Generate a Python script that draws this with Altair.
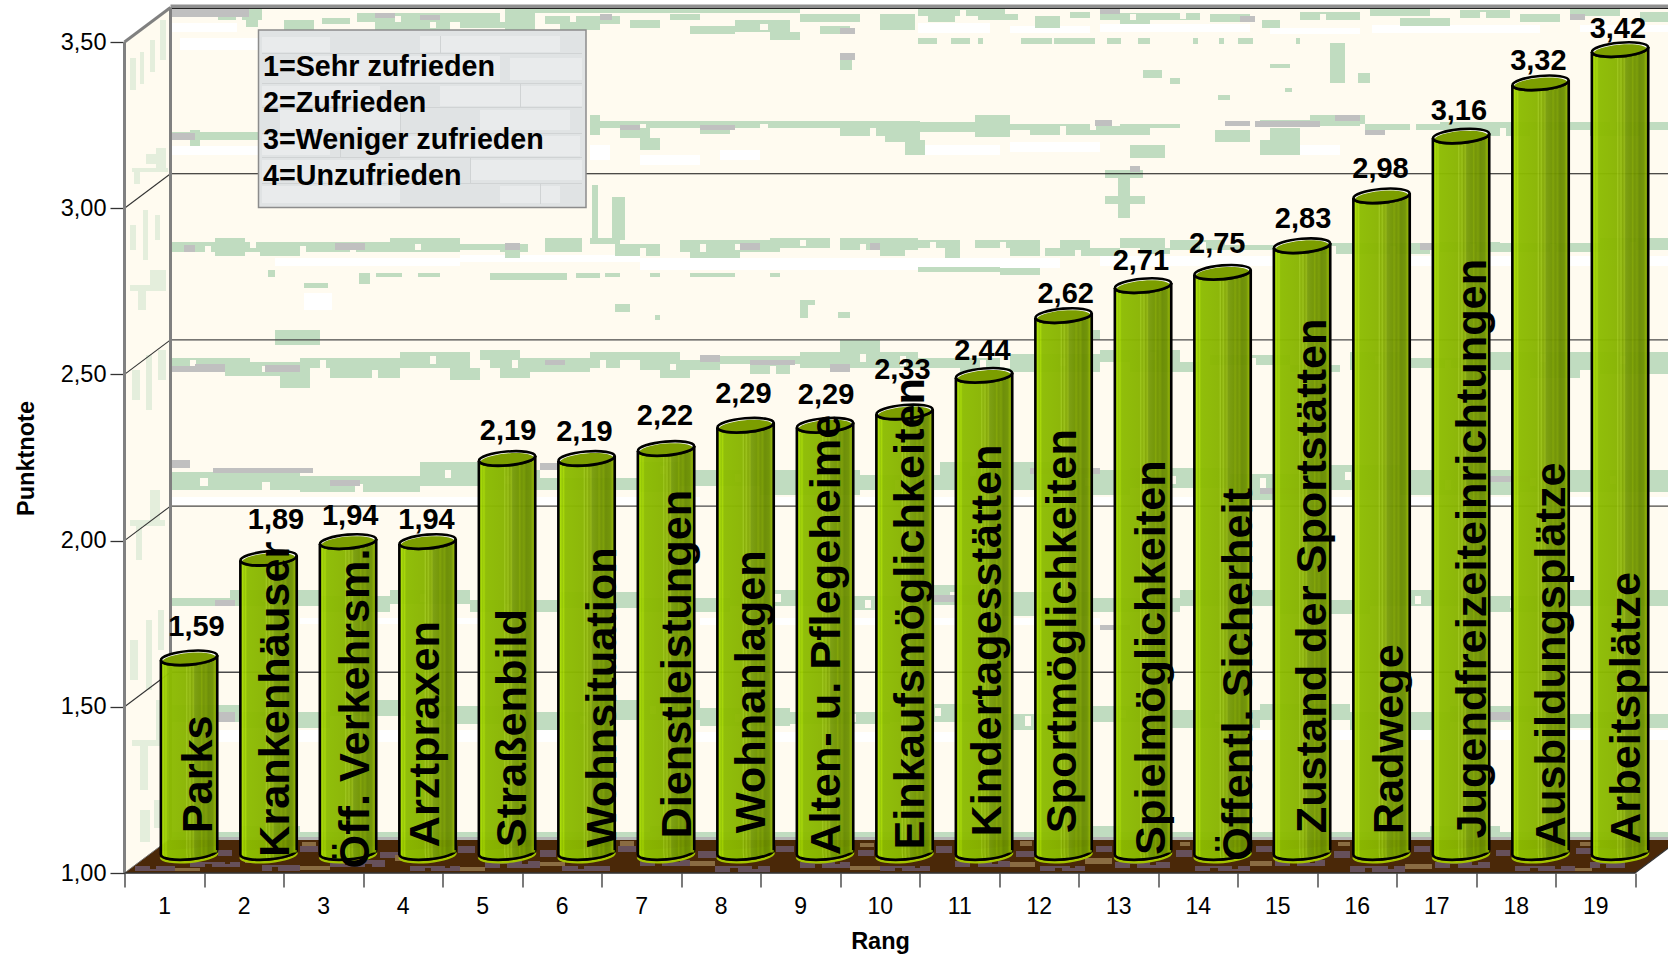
import altair as alt
import pandas as pd

# Survey results: satisfaction grades per topic, ranked from best to worst
ranks = list(range(1, 20))
topics = ["Parks", "Krankenhäuser", "Öff. Verkehrsm.", "Arztpraxen", "Straßenbild", "Wohnsituation",
          "Dienstleistungen", "Wohnanlagen", "Alten- u. Pflegeheime", "Einkaufsmöglichkeiten",
          "Kindertagesstätten", "Sportmöglichkeiten", "Spielmöglichkeiten", "Öffentl. Sicherheit",
          "Zustand der Sportstätten", "Radwege", "Jugendfreizeiteinrichtungen", "Ausbildungsplätze",
          "Arbeitsplätze"]
grades = [1.59, 1.89, 1.94, 1.94, 2.19, 2.19, 2.22, 2.29, 2.29, 2.33, 2.44, 2.62, 2.71, 2.75, 2.83,
          2.98, 3.16, 3.32, 3.42]
legend_lines = ["1=Sehr zufrieden", "2=Zufrieden", "3=Weniger zufrieden", "4=Unzufrieden"]

# Hand placement of the text on and above each cylinder, in axis units
name_shift = [.335, .31, .315, .19, .28, .415, .36, .295, .23, .295, .26, .20, .32, .415, .35, .32, .36, .36, .295]
name_start = [1.124, 1.053, 1.018, 1.082, 1.082, 1.082, 1.108, 1.124, 1.059, 1.075, 1.114, 1.124, 1.059, 1.041,
              1.124, 1.121, 1.108, 1.082, 1.092]
label_shift = [.094, .094, .027, -.013, .013, -.027, -.013, -.027, .013, -.027, -.02, .027, -.027, -.067, .013,
               -.013, -.027, -.027, -.027]
label_lift = [.093, .115, .077, .064, .083, .08, .099, .093, .09, .125, .074, .064, .074, .086, .08, .08, .074,
              .067, .061]

# Plot geometry
PLOT_W, PLOT_H = 1510.5, 831.0
PAD_L, PAD_T = 124.5, 42.0
PX_PER_RANK = PLOT_W / 19
PX_PER_GRADE = PLOT_H / 2.5
DEPTH_R = 46 / PX_PER_RANK      # wall depth in rank units
DEPTH_G = 34.5 / PX_PER_GRADE   # wall depth in grade units
BAR_R = 24.8 / PX_PER_RANK      # cylinders stand half way into the floor
BAR_G = 19 / PX_PER_GRADE
HALF_W = 28.2 / PX_PER_RANK
TILT = 2.5 / PX_PER_GRADE


def rank_at(px):
    return 0.5 + (px - PAD_L) / PX_PER_RANK


def grade_at(py):
    return 1 + (PAD_T + PLOT_H - py) / PX_PER_GRADE


x_scale = alt.Scale(domain=[0.5, 19.5], nice=False, zero=False)
y_scale = alt.Scale(domain=[1, 3.5], nice=False, zero=False)


def X(f):
    return alt.X(f, type="quantitative", scale=x_scale, axis=None, title=None)


def Y(f):
    return alt.Y(f, type="quantitative", scale=y_scale, axis=None, title=None, stack=None)


def X2(f):
    return alt.X2(f)


def Y2(f):
    return alt.Y2(f)


def patches(rows, color):
    return pd.DataFrame([{"r0": rank_at(a), "r1": rank_at(b), "g0": grade_at(c), "g1": grade_at(d), "c": color}
                         for a, b, c, d in rows])


def rects(df, **kw):
    return alt.Chart(df).mark_rect(**kw).encode(
        x=X("r0"), x2=X2("r1"), y=Y("g0"), y2=Y2("g1"), color=alt.Color("c:N", scale=None, legend=None))


def rule(r0, r1, g0, g1, color, width):
    df = pd.DataFrame([{"r0": r0, "r1": r1, "g0": g0, "g1": g1}])
    return alt.Chart(df).mark_rule(color=color, strokeWidth=width).encode(
        x=X("r0"), x2=X2("r1"), y=Y("g0"), y2=Y2("g1"))


# Wallpaper pattern of the back wall
wall_white = [
    (172, 237, 23, 32), (180, 260, 38, 50), (918, 990, 23, 33), (1010, 1090, 26, 33), (1100, 1250, 24, 32),
    (1270, 1360, 28, 34), (1372, 1540, 25, 33), (1580, 1668, 25, 32), (275, 460, 258, 266), (460, 640, 255, 262),
    (640, 1000, 258, 270), (1000, 1060, 258, 268), (1100, 1300, 256, 266), (1400, 1668, 256, 266),
    (172, 260, 146, 155), (590, 610, 145, 160), (640, 700, 155, 165), (720, 760, 150, 160), (918, 1000, 145, 155),
    (1010, 1100, 142, 152), (1300, 1340, 145, 155), (304, 332, 293, 310), (172, 700, 497, 505), (760, 1200, 497, 505),
    (1300, 1668, 497, 505), (300, 520, 618, 624), (700, 1100, 618, 625), (172, 600, 730, 742), (640, 1000, 732, 742),
    (1200, 1668, 730, 740),
]
wall_green = [
    (218, 262, 9, 20), (246, 258, 20, 27), (284, 314, 20, 32), (322, 350, 18, 24), (357, 500, 13, 22),
    (375, 450, 22, 30), (460, 505, 22, 28), (505, 800, 9, 13), (505, 535, 13, 30), (545, 620, 16, 24),
    (560, 600, 24, 30), (630, 660, 20, 28), (670, 700, 14, 20), (690, 735, 26, 34), (735, 790, 20, 32),
    (770, 800, 32, 40), (800, 860, 14, 22), (820, 850, 26, 34), (880, 915, 14, 30), (918, 1005, 9, 16),
    (928, 955, 16, 22), (978, 1018, 14, 20), (1035, 1060, 16, 28), (1070, 1090, 12, 18), (1100, 1200, 13, 20),
    (1120, 1150, 20, 24), (1210, 1250, 14, 22), (1262, 1280, 20, 28), (1300, 1360, 12, 20), (1370, 1430, 9, 16),
    (1400, 1450, 18, 26), (1460, 1510, 10, 18), (1520, 1560, 14, 22), (1570, 1620, 9, 16), (1640, 1668, 12, 22),
    (918, 937, 38, 44), (951, 970, 38, 44), (978, 983, 38, 44), (1021, 1052, 38, 44), (1054, 1095, 38, 44),
    (1107, 1121, 38, 44), (1138, 1150, 38, 44), (1193, 1198, 38, 44), (1219, 1224, 38, 44), (1238, 1253, 38, 44),
    (1296, 1300, 38, 44), (840, 852, 54, 70), (1330, 1345, 43, 83), (1358, 1370, 73, 83), (1143, 1162, 70, 78),
    (1170, 1180, 78, 84), (1218, 1230, 95, 100), (1270, 1290, 64, 68), (1285, 1292, 88, 92),
    (172, 258, 132, 140), (190, 200, 130, 146), (590, 920, 121, 128), (590, 600, 115, 135), (620, 650, 128, 138),
    (640, 660, 138, 150), (700, 730, 128, 134), (840, 900, 128, 136), (885, 920, 128, 142), (905, 925, 140, 155),
    (918, 1000, 122, 132), (975, 1010, 115, 137), (1000, 1110, 124, 130), (1030, 1150, 126, 135), (1120, 1180, 124, 128),
    (1215, 1250, 130, 142), (1260, 1360, 120, 126), (1310, 1365, 115, 124), (1270, 1300, 128, 140), (1365, 1440, 124, 130),
    (1440, 1668, 122, 130), (1480, 1530, 128, 136), (1590, 1640, 130, 136), (1130, 1165, 145, 158), (1260, 1300, 140, 155),
    (592, 598, 185, 240), (612, 625, 197, 240), (1105, 1143, 170, 178), (1118, 1130, 178, 218), (1105, 1145, 196, 204),
    (172, 460, 242, 252), (215, 245, 238, 256), (260, 300, 246, 256), (390, 460, 238, 250), (460, 505, 244, 250),
    (500, 528, 244, 252), (505, 520, 252, 258), (545, 582, 238, 252), (590, 620, 238, 244), (615, 660, 244, 256),
    (680, 780, 240, 252), (690, 740, 252, 258), (770, 830, 238, 248), (840, 918, 238, 250), (880, 905, 250, 256),
    (918, 960, 240, 248), (945, 960, 248, 258), (975, 1040, 240, 248), (1010, 1040, 248, 256), (1045, 1120, 248, 256),
    (1060, 1090, 240, 248), (1120, 1165, 238, 248), (1140, 1170, 248, 254), (1170, 1225, 240, 250), (1225, 1300, 245, 250),
    (1300, 1430, 243, 254), (1440, 1500, 242, 252), (1500, 1600, 243, 252), (1600, 1668, 238, 250),
    (268, 275, 270, 277), (359, 370, 273, 284), (376, 402, 273, 277), (418, 440, 273, 277), (490, 567, 273, 280),
    (576, 600, 273, 278), (605, 620, 273, 277), (650, 660, 273, 277), (690, 735, 273, 277), (770, 780, 273, 277),
    (918, 1000, 267, 272), (1000, 1040, 268, 275), (304, 328, 283, 288), (615, 630, 304, 312), (655, 660, 315, 320),
    (800, 815, 300, 305), (800, 808, 305, 318), (838, 850, 312, 318), (275, 320, 330, 345), (1080, 1100, 330, 340),
    (172, 250, 358, 368), (225, 300, 362, 376), (280, 310, 368, 388), (300, 400, 358, 368), (330, 400, 368, 378),
    (400, 470, 352, 368), (450, 480, 368, 380), (480, 520, 350, 360), (490, 620, 358, 368), (500, 530, 368, 378),
    (530, 590, 364, 372), (590, 680, 352, 360), (640, 720, 360, 370), (660, 690, 370, 378), (720, 800, 356, 364),
    (750, 790, 364, 374), (800, 918, 352, 368), (840, 880, 340, 352), (918, 1000, 358, 368), (960, 1010, 368, 376),
    (1010, 1100, 354, 372), (1100, 1180, 350, 362), (1130, 1200, 362, 372), (1210, 1290, 355, 365), (1290, 1340, 365, 372),
    (1350, 1400, 352, 370), (1410, 1480, 358, 368), (1490, 1668, 352, 370), (1530, 1580, 370, 378), (1600, 1668, 370, 374),
    (172, 300, 472, 490), (300, 420, 476, 492), (420, 480, 462, 486), (480, 540, 470, 490), (540, 640, 478, 490),
    (640, 680, 462, 492), (680, 760, 470, 486), (760, 860, 470, 495), (860, 940, 475, 490), (940, 1050, 462, 490),
    (1050, 1130, 470, 495), (1130, 1230, 468, 488), (1230, 1300, 474, 500), (1300, 1400, 465, 490), (1400, 1520, 470, 495),
    (1520, 1668, 470, 492),
    (172, 230, 598, 606), (230, 320, 590, 606), (320, 390, 596, 612), (390, 470, 590, 604), (470, 560, 600, 612),
    (560, 640, 592, 608), (640, 730, 598, 612), (730, 820, 590, 606), (820, 900, 596, 610), (900, 1000, 585, 605),
    (1000, 1090, 592, 616), (1090, 1180, 598, 612), (1180, 1280, 590, 606), (1280, 1370, 600, 614), (1370, 1460, 590, 606),
    (1460, 1560, 596, 612), (1560, 1668, 590, 606),
    (172, 240, 705, 722), (240, 330, 712, 728), (330, 420, 700, 716), (420, 520, 706, 724), (520, 600, 712, 730),
    (600, 700, 700, 720), (700, 790, 708, 726), (790, 890, 712, 724), (890, 980, 704, 722), (980, 1070, 714, 730),
    (1070, 1170, 706, 722), (1170, 1260, 710, 728), (1260, 1350, 704, 720), (1350, 1450, 712, 730), (1450, 1560, 706, 722),
    (1560, 1668, 714, 728),
    (172, 1668, 832, 838), (240, 300, 826, 832), (650, 690, 826, 832), (1060, 1120, 826, 832), (1430, 1500, 826, 832),
]
# Small openings that break the long green runs into a blotchy weave
wall_gaps = [
    (236, 242, 14, 20), (395, 401, 16, 22), (430, 436, 22, 28), (570, 576, 16, 22), (760, 768, 24, 30), (960, 966, 10, 16),
    (1130, 1136, 14, 20), (1180, 1186, 13, 19), (1320, 1326, 14, 20), (1480, 1486, 12, 18), (640, 646, 124, 128),
    (760, 768, 124, 128), (870, 876, 128, 136), (1060, 1066, 126, 135), (1090, 1096, 124, 130), (1410, 1416, 124, 130),
    (1500, 1506, 128, 136), (1610, 1616, 122, 130), (205, 211, 246, 252), (250, 256, 242, 248), (300, 306, 246, 252),
    (350, 356, 246, 252), (415, 421, 244, 250), (640, 646, 248, 256), (700, 706, 244, 252), (735, 741, 244, 250),
    (800, 806, 240, 246), (860, 866, 244, 250), (930, 936, 242, 248), (1000, 1006, 242, 248), (1075, 1081, 250, 256),
    (1200, 1206, 242, 250), (1330, 1336, 246, 254), (1390, 1396, 246, 254), (1470, 1476, 244, 252), (1550, 1556, 244, 252),
    (1630, 1636, 242, 250), (190, 196, 360, 368), (262, 268, 366, 372), (320, 326, 360, 368), (372, 378, 370, 378),
    (430, 436, 356, 364), (512, 518, 360, 368), (600, 606, 360, 368), (670, 676, 364, 370), (770, 776, 366, 374),
    (860, 866, 354, 362), (900, 906, 356, 366), (980, 986, 360, 368), (1060, 1066, 358, 366), (1150, 1156, 352, 360),
    (1250, 1256, 358, 365), (1375, 1381, 356, 364), (1445, 1451, 360, 368), (1540, 1546, 354, 362), (1620, 1626, 356, 364),
    (200, 208, 478, 486), (262, 270, 482, 490), (355, 363, 484, 492), (445, 451, 470, 478), (505, 511, 476, 484),
    (660, 666, 466, 474), (735, 741, 474, 482), (815, 821, 480, 490), (895, 901, 480, 490), (970, 976, 468, 476),
    (1085, 1091, 478, 486), (1170, 1176, 476, 484), (1260, 1266, 478, 488), (1345, 1351, 472, 480), (1445, 1451, 480, 490),
    (1530, 1536, 478, 486), (1610, 1616, 476, 484), (262, 268, 594, 602), (345, 351, 600, 608), (420, 426, 594, 602),
    (505, 511, 604, 610), (590, 596, 598, 604), (680, 686, 602, 610), (775, 781, 594, 602), (865, 871, 600, 608),
    (950, 956, 592, 600), (1035, 1041, 598, 608), (1135, 1141, 602, 610), (1230, 1236, 594, 602), (1325, 1331, 604, 612),
    (1415, 1421, 596, 604), (1510, 1516, 600, 608), (1615, 1621, 596, 604), (260, 266, 716, 724), (350, 356, 704, 712),
    (440, 446, 712, 720), (580, 586, 716, 724), (650, 656, 706, 714), (735, 741, 714, 722), (850, 856, 714, 722),
    (935, 941, 708, 716), (1025, 1031, 716, 726), (1120, 1126, 710, 718), (1215, 1221, 714, 722), (1305, 1311, 708, 716),
    (1395, 1401, 716, 724), (1500, 1506, 712, 718), (1615, 1621, 716, 724),
]
wall_grey = [
    (172, 249, 9, 17), (375, 395, 13, 18), (420, 440, 15, 20), (600, 612, 14, 20), (840, 855, 28, 34), (1100, 1120, 9, 14),
    (1240, 1255, 16, 22), (1570, 1585, 14, 20), (172, 195, 133, 140), (620, 640, 125, 130), (700, 735, 125, 130),
    (840, 855, 53, 60), (1095, 1112, 120, 126), (1225, 1250, 121, 126), (1255, 1320, 121, 127), (1335, 1360, 115, 121),
    (1365, 1385, 130, 135), (1130, 1140, 166, 172), (184, 195, 245, 252), (335, 365, 243, 250), (505, 520, 243, 250),
    (740, 760, 243, 250), (870, 880, 243, 250), (1420, 1440, 243, 250), (172, 195, 366, 372), (195, 225, 364, 372),
    (265, 300, 365, 372), (545, 565, 360, 365), (700, 720, 355, 362), (750, 795, 360, 365), (830, 850, 364, 372),
    (213, 313, 468, 473), (172, 190, 460, 468), (330, 360, 480, 486), (540, 600, 463, 470), (1030, 1100, 468, 474),
    (1480, 1530, 476, 482), (1260, 1320, 488, 494), (215, 235, 600, 606), (930, 980, 595, 602), (1100, 1130, 625, 630),
    (210, 235, 712, 722), (405, 440, 712, 720), (1450, 1510, 712, 720), (1590, 1640, 712, 720),
]
side_streaks = [
    (130, 136, 58, 90), (140, 144, 52, 84), (150, 155, 40, 72), (160, 166, 20, 60), (132, 168, 168, 172),
    (134, 140, 172, 184), (146, 160, 154, 164), (156, 166, 148, 170), (130, 136, 225, 250), (143, 148, 210, 260),
    (155, 160, 215, 240), (130, 166, 285, 291), (138, 146, 291, 310), (150, 166, 270, 285), (132, 140, 370, 400),
    (146, 152, 355, 410), (158, 166, 350, 380), (130, 165, 520, 526), (136, 142, 526, 560), (150, 160, 490, 520),
    (130, 138, 640, 680), (146, 152, 620, 690), (158, 164, 610, 650), (132, 162, 740, 746), (140, 148, 746, 790),
    (156, 166, 700, 740), (140, 150, 810, 842), (154, 162, 800, 828),
]

# Floor pattern: (left, right, top, bottom)
floor_mauve = [
    (135, 175, 866, 871), (190, 240, 862, 867), (262, 300, 865, 871), (330, 385, 860, 867), (410, 460, 866, 871),
    (485, 540, 861, 868), (562, 610, 866, 871), (640, 690, 860, 866), (715, 770, 866, 872), (800, 850, 862, 868),
    (880, 930, 866, 871), (955, 1010, 861, 867), (1040, 1085, 866, 871), (1115, 1170, 862, 868), (1195, 1250, 866, 871),
    (1275, 1325, 860, 866), (1350, 1405, 866, 872), (1435, 1490, 862, 868), (1515, 1575, 866, 871), (1590, 1625, 862, 868),
    (218, 232, 850, 856), (300, 318, 846, 852), (380, 398, 852, 858), (458, 475, 846, 853), (540, 556, 850, 857),
    (618, 636, 846, 852), (698, 716, 851, 858), (776, 794, 846, 852), (858, 874, 850, 856), (936, 952, 846, 853),
    (1016, 1034, 851, 857), (1096, 1112, 846, 852), (1176, 1192, 850, 857), (1256, 1272, 846, 852), (1334, 1350, 851, 858),
    (1414, 1430, 846, 852), (1496, 1510, 850, 856), (1576, 1610, 848, 854),
]
floor_tan = [
    (175, 200, 868, 871), (300, 330, 866, 870), (245, 262, 858, 863), (460, 485, 867, 871), (540, 565, 862, 866),
    (395, 415, 855, 861), (690, 715, 861, 866), (850, 880, 866, 870), (1010, 1035, 862, 867), (1085, 1112, 858, 864),
    (1250, 1272, 861, 866), (1405, 1432, 864, 869), (1575, 1592, 868, 871), (302, 316, 842, 846), (620, 634, 841, 846),
    (860, 874, 843, 847), (1020, 1032, 841, 846), (1180, 1190, 842, 846), (1338, 1350, 842, 846), (1580, 1600, 842, 846),
]
# Dark flecks that break the floor's lighter blotches into speckle
floor_flecks = [
    (150, 156, 866, 869), (205, 212, 864, 867), (225, 230, 862, 864), (272, 278, 867, 871), (345, 352, 862, 865),
    (365, 372, 864, 867), (425, 431, 868, 871), (445, 450, 866, 868), (500, 507, 864, 868), (522, 528, 861, 864),
    (578, 584, 866, 869), (655, 662, 862, 866), (675, 680, 860, 862), (730, 738, 868, 872), (752, 758, 866, 869),
    (815, 822, 864, 868), (835, 840, 862, 864), (895, 902, 868, 871), (915, 920, 866, 868), (970, 978, 863, 867),
    (992, 998, 861, 864), (1055, 1062, 868, 871), (1070, 1075, 866, 868), (1130, 1137, 864, 868), (1150, 1156, 862, 865),
    (1210, 1218, 868, 871), (1232, 1238, 866, 869), (1290, 1297, 862, 866), (1310, 1315, 860, 863), (1365, 1372, 868, 872),
    (1388, 1394, 866, 869), (1450, 1458, 864, 868), (1472, 1478, 862, 865), (1530, 1538, 868, 871), (1555, 1561, 866, 869),
    (1600, 1606, 864, 868),
]

# Cylinder shading, left to right, with fine vertical stripes
shade_stops = [
    (0, "#98CC00"), (.04, "#A8DC00"), (.07, "#92C400"), (.09, "#A4D600"), (.12, "#8CBC00"), (.44, "#88B400"),
    (.46, "#9EC81A"), (.48, "#84AC00"), (.52, "#98C014"), (.54, "#80A600"), (.58, "#90B410"), (.60, "#789C0A"),
    (.70, "#709400"), (.72, "#7EA200"), (.76, "#6E9000"), (.80, "#789C00"), (.84, "#688A00"), (.92, "#6E9200"),
    (.96, "#8AAC00"), (1, "#6C8E00"),
]
shade = alt.LinearGradient(gradient="linear", x1=0, x2=1, y1=0, y2=0,
                           stops=[alt.GradientStop(offset=o, color=c) for o, c in shade_stops])

rows = pd.DataFrame({"Rang": ranks, "topic": topics, "grade": grades, "name_shift": name_shift,
                     "name_start": name_start, "label_shift": label_shift, "label_lift": label_lift})
rows["cx"] = rows["Rang"] + BAR_R
rows["left"] = rows["cx"] - HALF_W
rows["right"] = rows["cx"] + HALF_W
rows["top"] = rows["grade"] + BAR_G
rows["bottom"] = 1 + BAR_G + 1.5 / PX_PER_GRADE
rows["top_l"] = rows["top"] - TILT
rows["top_r"] = rows["top"] + TILT
rows["bot_l"] = rows["bottom"] - TILT
rows["bot_r"] = rows["bottom"] + TILT
rows["inner"] = rows["top"] - 1.6 / PX_PER_GRADE
rows["rim"] = rows["bottom"] - 2.5 / PX_PER_GRADE
rows["label_x"] = rows["cx"] + rows["label_shift"]
rows["label_y"] = rows["top"] + rows["label_lift"]
rows["name_x"] = rows["cx"] + rows["name_shift"] - 3.8 / PX_PER_RANK
rows["name_y"] = rows["name_start"] - 1.5 / PX_PER_GRADE
rows["grade_text"] = rows["grade"].map(lambda v: f"{v:.2f}".replace(".", ","))

ELLIPSE = ("M -1 0 C -1 -0.135 -0.552 -0.245 0 -0.245 C 0.552 -0.245 1 -0.135 1 0 "
           "C 1 0.135 0.552 0.245 0 0.245 C -0.552 0.245 -1 0.135 -1 0 Z")
# The filled lower end reaches a little above its chord so the tilted cap leaves no wedge under the body
LOWER_FILL = "M -1 -0.14 L -1 0 C -1 0.135 -0.552 0.245 0 0.245 C 0.552 0.245 1 0.135 1 0 L 1 -0.14 Z"
LOWER_ARC = "M -1 0 C -1 0.135 -0.552 0.245 0 0.245 C 0.552 0.245 1 0.135 1 0"
CAP_SIZE = 56.4 ** 2
CAP_ANGLE = 355

base = alt.Chart(rows)


def cap(y_field, shape, size=CAP_SIZE, **kw):
    return base.mark_point(shape=shape, size=size, angle=CAP_ANGLE, opacity=1, **kw).encode(x=X("cx"), y=Y(y_field))


# Room: back wall, side wall, floor
back_wall = rects(pd.DataFrame([{"r0": rank_at(170), "r1": rank_at(1690), "g0": 1 + DEPTH_G, "g1": 3.5 + DEPTH_G,
                                 "c": "#FFFBF0"}]))
side_wall = alt.Chart(pd.DataFrame({"r": [0.5, 0.5 + DEPTH_R], "g0": [1, 1 + DEPTH_G],
                                    "g1": [3.5, 3.5 + DEPTH_G]})).mark_area(
    orient="vertical", color="#FFFBF0").encode(x=X("r"), y=Y("g0"), y2=Y2("g1"))
floor = alt.Chart(pd.DataFrame({"g": [1, 1 + DEPTH_G], "r0": [0.5, 0.5 + DEPTH_R],
                                "r1": [19.5, 19.5 + DEPTH_R]})).mark_area(
    orient="horizontal", color="#4A2808").encode(y=Y("g"), x=X("r0"), x2=X2("r1"))

grid_back = []
for g, col, w in [(1.5, "#4A4A4A", 1.4), (2.0, "#4A4A4A", 1.4), (2.5, "#4A4A4A", 1.4), (3.0, "#111111", 1.1)]:
    grid_back.append(rule(0.5 + DEPTH_R, rank_at(1690), g + DEPTH_G, g + DEPTH_G, col, w))
    grid_back.append(rule(0.5, 0.5 + DEPTH_R, g, g + DEPTH_G, "#333333", 1.1))

frame = [
    rule(0.5 + DEPTH_R, rank_at(1690), 1 + DEPTH_G, 1 + DEPTH_G, "#B4B4B4", 3),
    rule(0.5 + DEPTH_R, rank_at(1690), 3.5 + DEPTH_G + 0.004, 3.5 + DEPTH_G + 0.004, "#909090", 3.5),
    rule(0.5 + DEPTH_R, rank_at(1690), 3.5 + DEPTH_G - 0.003, 3.5 + DEPTH_G - 0.003, "#222222", 1),
    rule(0.5 + DEPTH_R, 0.5 + DEPTH_R, 1 + DEPTH_G, 3.5 + DEPTH_G, "#808080", 3),
    rule(0.5, 0.5, 1, 3.5, "#808080", 3),
    rule(0.5, 0.5 + DEPTH_R, 3.5, 3.5 + DEPTH_G, "#808080", 3),
    rule(0.5, 0.5 + DEPTH_R, 1, 1 + DEPTH_G, "#777777", 1),
    rule(0.5, 19.5, 1, 1, "#333333", 1.5),
    rule(19.5, 19.5 + DEPTH_R, 1, 1 + DEPTH_G, "#333333", 1.2),
]

# Axes live on a transparent layer of their own
y_axis = alt.Axis(values=[1, 1.5, 2, 2.5, 3, 3.5], grid=False, domain=False, tickColor="#333333", tickWidth=1.3,
                  tickSize=14.5, labelFontSize=23.5, labelPadding=4, labelColor="#000000",
                  labelExpr="replace(format(datum.value, '.2f'), '.', ',')",
                  title="Punktnote", titleFontSize=23.5, titleFontWeight="bold", titleColor="#000000",
                  titleX=-98, titleY=416, titleBaseline="middle", titleAlign="center")
half_steps = [0.5 + i * 0.5 for i in range(39)]
x_axis = alt.Axis(values=half_steps, grid=False, domain=False, tickColor="#333333", tickWidth=1.3, tickSize=14,
                  labelFontSize=23, labelPadding=8, labelColor="#000000", labelOverlap=False, labelFlush=False,
                  labelBound=False, tickOpacity={"condition": {"test": "datum.value % 1 != 0", "value": 1}, "value": 0},
                  labelExpr="datum.value % 1 == 0 ? format(datum.value, 'd') : ''",
                  title="Rang", titleFontSize=23.5, titleFontWeight="bold", titleColor="#000000",
                  titleX=755.5, titleY=68, titleBaseline="middle", titleAlign="center")
axes = alt.Chart(rows).mark_point(opacity=0).encode(
    x=alt.X("Rang", type="quantitative", scale=x_scale, axis=x_axis),
    y=alt.Y("grade", type="quantitative", scale=y_scale, axis=y_axis))

# Cylinders
cylinders = [
    cap("rim", LOWER_ARC, filled=False, stroke="#A4C400", strokeWidth=2.5),
    cap("bottom", LOWER_FILL, filled=True, fill=shade),
    cap("bottom", LOWER_ARC, filled=False, stroke="#000000", strokeWidth=2.6),
    base.mark_rect(fill=shade, opacity=0.96).encode(x=X("left"), x2=X2("right"), y=Y("bottom"), y2=Y2("top")),
    base.mark_rule(color="#000000", strokeWidth=2.6).encode(x=X("left"), y=Y("top_l"), y2=Y2("bot_l")),
    base.mark_rule(color="#000000", strokeWidth=2.6).encode(x=X("right"), y=Y("top_r"), y2=Y2("bot_r")),
    cap("top", ELLIPSE, filled=True, fill="#FFFFFF", stroke="#000000", strokeWidth=2.6),
    cap("inner", ELLIPSE, size=(53.5) ** 2, filled=True, fill="#7C9E00"),
    cap("top", LOWER_ARC, filled=False, stroke="#000000", strokeWidth=2.8),
]

value_labels = base.mark_text(fontSize=29, fontWeight="bold", color="#000000", baseline="middle", align="center").encode(
    x=X("label_x"), y=Y("label_y"), text="grade_text:N")
topic_labels = base.mark_text(fontSize=43.3, fontWeight="bold", color="#000000", angle=270, align="left",
                              baseline="alphabetic").encode(x=X("name_x"), y=Y("name_y"), text="topic:N")

# Scale legend as a brick-textured note
note_box = pd.DataFrame([{"r0": rank_at(258.5), "r1": rank_at(586), "g0": grade_at(30), "g1": grade_at(207.5),
                          "c": "#DEE2E4"}])
note_bricks = [
    (262, 330, 37, 52), (420, 560, 36, 52), (300, 500, 56, 82), (510, 582, 58, 80), (262, 380, 86, 105),
    (440, 582, 86, 106), (280, 400, 110, 131), (480, 570, 110, 130), (262, 330, 135, 155), (400, 580, 136, 156),
    (262, 420, 160, 181), (470, 582, 160, 180), (262, 400, 186, 203), (500, 560, 186, 203),
]
note_mortar = [
    (262, 582, 53, 54), (262, 582, 83, 84), (262, 582, 107, 108), (262, 582, 133, 134), (262, 582, 157, 158),
    (262, 582, 183, 184), (440, 441, 36, 53), (520, 521, 84, 107), (400, 401, 108, 133), (340, 341, 134, 157),
    (470, 471, 158, 183), (540, 541, 184, 204),
]
note_frame = alt.Chart(note_box).mark_rect(fill="#E0E3E4", stroke="#8C8C8C", strokeWidth=1.5).encode(
    x=X("r0"), x2=X2("r1"), y=Y("g0"), y2=Y2("g1"))
note_text = pd.DataFrame({"line": legend_lines,
                          "r": [rank_at(263)] * 4,
                          "g": [grade_at(67), grade_at(103), grade_at(140), grade_at(176)]})
note_labels = alt.Chart(note_text).mark_text(fontSize=28.7, fontWeight="bold", color="#000000", align="left",
                                             baseline="middle").encode(x=X("r"), y=Y("g"), text="line:N")

chart = alt.layer(
    axes,
    back_wall,
    rects(patches(wall_white, "#FFFFFF")),
    rects(patches(wall_green, "#C0DCC0")),
    rects(patches(wall_gaps, "#FFFBF0")),
    rects(patches(wall_grey, "#C0C0C0")),
    side_wall,
    rects(patches(side_streaks, "#E4EEDC")),
    floor,
    rects(patches(floor_mauve, "#66505A")),
    rects(patches(floor_tan, "#8A6C42")),
    rects(patches(floor_flecks, "#4A2808")),
    *grid_back,
    *frame,
    note_frame,
    rects(patches(note_bricks, "#E9EBEC")),
    rects(patches(note_mortar, "#D0D3D4")),
    note_labels,
    *cylinders,
    value_labels,
    topic_labels,
).resolve_axis(x="independent", y="independent").properties(
    width=PLOT_W, height=PLOT_H,
    padding={"left": PAD_L, "top": PAD_T, "right": 33, "bottom": 83},
    autosize=alt.AutoSizeParams(type="none"),
    background="#FFFFFF",
).configure_view(stroke=None).configure(font="Liberation Sans")

chart.save("out.html", embed_options={"renderer": "svg", "actions": False})
